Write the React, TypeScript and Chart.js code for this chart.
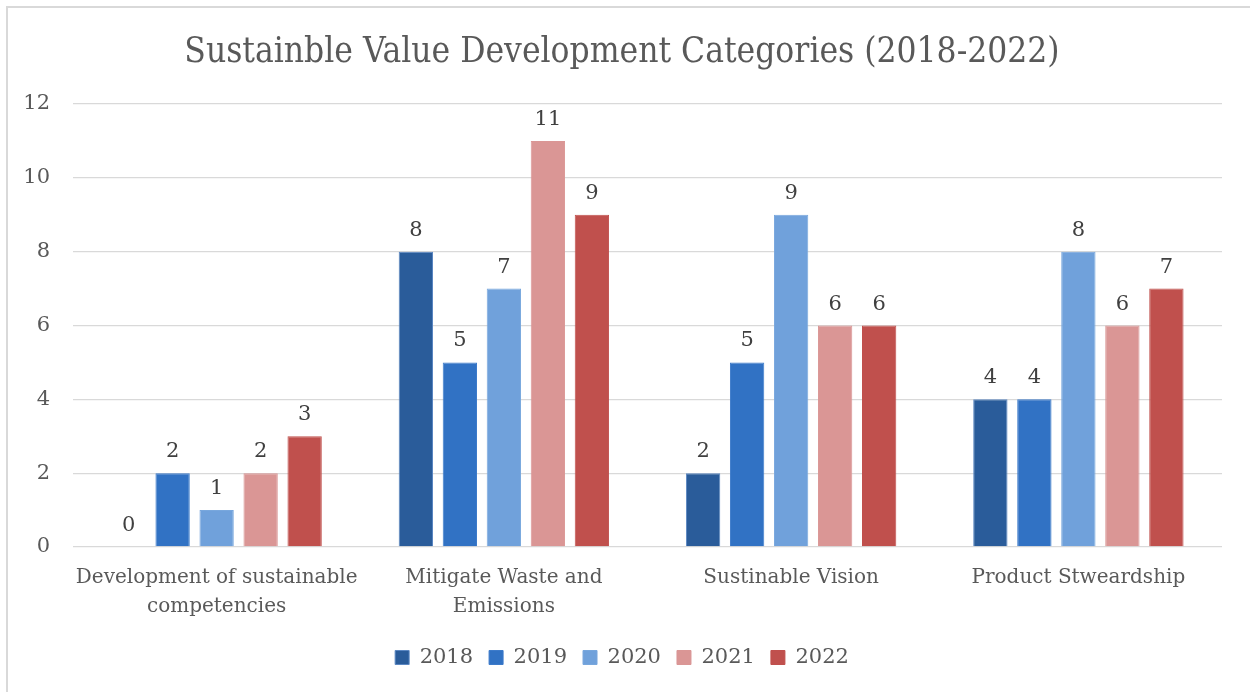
import React, { useEffect, useRef } from "react";
import { Chart, registerables } from "chart.js";

Chart.register(...registerables);

const titleText = "Sustainble Value Development Categories (2018-2022)";
const categories: (string | string[])[] = [
  ["Development of sustainable", "competencies"],
  ["Mitigate Waste and", "Emissions"],
  "Sustinable Vision",
  "Product Stweardship",
];
const seriesNames = ["2018", "2019", "2020", "2021", "2022"];
const values2018 = [0, 8, 2, 4];
const values2019 = [2, 5, 5, 4];
const values2020 = [1, 7, 9, 8];
const values2021 = [2, 11, 6, 6];
const values2022 = [3, 9, 6, 7];
const yTicks = [0, 2, 4, 6, 8, 10, 12];

const fillColors = ["#2A5C9A", "#3172C4", "#70A1DB", "#DA9695", "#C0504D"];
const borderColors = ["#5B87C2", "#3D7BCA", "#78A7DD", "#DA9695", "#C0504D"];

const SERIF = "'DejaVu Serif', serif";

const valueLabels = {
  id: "valueLabels",
  afterDatasetsDraw(chart: any) {
    const ctx = chart.ctx;
    ctx.save();
    ctx.font = `21px ${SERIF}`;
    ctx.fillStyle = "#404040";
    ctx.textAlign = "center";
    ctx.textBaseline = "alphabetic";
    chart.data.datasets.forEach((ds: any, i: number) => {
      const meta = chart.getDatasetMeta(i);
      meta.data.forEach((bar: any, j: number) => {
        ctx.fillText(String(ds.data[j]), bar.x, bar.y - 16);
      });
    });
    ctx.restore();
  },
};

export default function App() {
  const ref = useRef<HTMLCanvasElement>(null);
  useEffect(() => {
    if (!ref.current) return;
    const allSeries = [values2018, values2019, values2020, values2021, values2022];
    const chart = new Chart(ref.current, {
      type: "bar",
      data: {
        labels: categories,
        datasets: allSeries.map((d, i) => ({
          label: seriesNames[i],
          data: d,
          backgroundColor: fillColors[i],
          borderColor: borderColors[i],
          borderWidth: 1,
          categoryPercentage: 0.766,
          barPercentage: 0.78,
        })),
      },
      options: {
        animation: false,
        responsive: false,
        layout: { padding: { left: 22, right: 28, top: 0, bottom: 32 } },
        plugins: {
          title: {
            display: true,
            text: titleText,
            color: "#595959",
            font: { family: "'DejaVu Serif Condensed', 'DejaVu Serif', serif", size: 35, weight: "normal", lineHeight: 1.2 },
            padding: { top: 32, bottom: 30 },
          },
          legend: {
            position: "bottom",
            labels: {
              boxWidth: 14,
              boxHeight: 14,
              padding: 16,
              color: "#595959",
              font: { family: SERIF, size: 21 },
            },
          },
          tooltip: { enabled: false },
        },
        scales: {
          x: {
            grid: { display: false, drawTicks: false },
            border: { display: false },
            ticks: {
              color: "#595959",
              padding: 16,
              maxRotation: 0,
              autoSkip: false,
              font: { family: SERIF, size: 20, lineHeight: 1.45 },
            },
            afterFit(scale: any) {
              scale.height = 84;
            },
          },
          y: {
            min: 0,
            max: 12,
            afterBuildTicks(scale: any) {
              scale.ticks = yTicks.map((v) => ({ value: v }));
            },
            grid: { color: "#D9D9D9", lineWidth: 1.3, drawTicks: false },
            border: { display: false },
            ticks: {
              color: "#595959",
              padding: 23,
              font: { family: SERIF, size: 21 },
            },
            afterFit(scale: any) {
              scale.width = 51;
            },
          },
        },
      },
      plugins: [valueLabels],
    });
    return () => chart.destroy();
  }, []);

  return (
    <div style={{ position: "fixed", left: 0, top: 0, width: 1250, height: 692, overflow: "hidden", background: "#fff" }}>
      <div style={{ position: "absolute", left: 6, top: 6, width: 1300, height: 800, border: "2px solid #D9D9D9", boxSizing: "border-box" }} />
      <canvas ref={ref} width={1250} height={710} style={{ position: "absolute", left: 0, top: 0, width: 1250, height: 710 }} />
    </div>
  );
}
